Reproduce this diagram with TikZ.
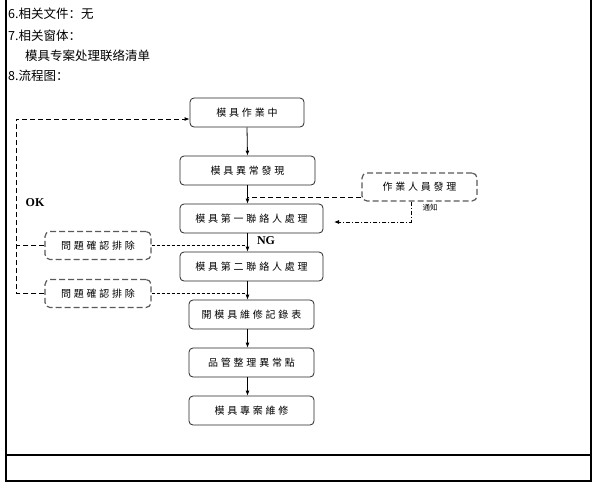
\documentclass[tikz,border=0pt]{standalone}
\usepackage{fontspec}
\setmainfont{Liberation Serif}
\newfontfamily\cjk{Noto Sans CJK SC}
\newfontfamily\cjkbox[LetterSpace=28]{Noto Sans CJK TC}
\usetikzlibrary{arrows.meta}
\begin{document}
\begin{tikzpicture}[x=1pt,y=-1pt,
  hdr/.style={anchor=west,inner sep=0pt,font=\cjk\fontsize{12.5}{14}\selectfont},
  box/.style={draw=black!85,line width=0.8pt,rounded corners=4pt,minimum height=29pt,inner sep=0pt,font=\cjkbox\fontsize{10}{12}\selectfont},
  dbox/.style={draw=black!65,line width=1.2pt,dash pattern=on 6pt off 3pt,rounded corners=5pt,minimum height=28pt,inner sep=0pt,font=\cjkbox\fontsize{10}{12}\selectfont},
  arr/.style={-{Latex[length=5pt,width=4pt]},line width=0.8pt},
  dline/.style={line width=0.9pt,dash pattern=on 5pt off 3pt},
  fline/.style={line width=0.8pt,dash pattern=on 3pt off 2pt},
  lbl/.style={font=\bfseries\fontsize{12}{14}\selectfont,inner sep=0pt}]
\useasboundingbox (0,0) rectangle (595,485);
% frame
\draw[line width=1.2pt] (6,0) -- (6,481) -- (591,481) -- (591,0);
\draw[line width=1.2pt] (6,455) -- (591,455);
% header text
\node[hdr] (h6) at (8,14) {6.相关文件：无};
\node[hdr] (h7) at (8,36) {7.相关窗体：};
\node[hdr] (h7a) at (25,56) {模具专案处理联络清单};
\node[hdr] (h8) at (8,76) {8.流程图：};
% main boxes
\node[box,minimum width=114pt] (b1) at (247,112.5) {模具作業中};
\node[box,minimum width=135pt] (b2) at (247.5,170.5) {模具異常發現};
\node[box,minimum width=143pt] (b3) at (251.5,218.5) {模具第一聯絡人處理};
\node[box,minimum width=143pt] (b4) at (251.5,266.5) {模具第二聯絡人處理};
\node[box,minimum width=125pt] (b5) at (251.5,314.5) {開模具維修記錄表};
\node[box,minimum width=125pt] (b6) at (251.5,362.5) {品管整理異常點};
\node[box,minimum width=125pt] (b7) at (251.5,410.5) {模具專案維修};
% dashed boxes
\node[dbox,minimum width=115pt] (w) at (419.5,187) {作業人員發理};
\node[dbox,minimum width=106pt] (q1) at (98,245.5) {問題確認排除};
\node[dbox,minimum width=106pt] (q2) at (98,293.5) {問題確認排除};
% labels
\node[lbl] (ok) at (35,203) {OK};
\node[lbl] (ng) at (266,241) {NG};
\node[font=\cjk\fontsize{7.5}{9}\selectfont,inner sep=0pt] (tz) at (430,208) {通知};
% coordinates
\coordinate (a1) at (247,197);
\coordinate (a2) at (247,245.5);
\coordinate (a3) at (247,293.5);
\coordinate (lx) at (16.5,119);
\coordinate (dn) at (411,222);
\coordinate (tip) at (334,222);
% main arrows
\draw[arr] (b1.south) -- (b2.north);
\draw[arr] (b2.south) -- (b2.south |- b3.north);
\draw[arr] (b2.south |- b3.south) -- (b2.south |- b4.north);
\draw[arr] (b2.south |- b4.south) -- (b2.south |- b5.north);
\draw[arr] (b2.south |- b5.south) -- (b2.south |- b6.north);
\draw[arr] (b2.south |- b6.south) -- (b2.south |- b7.north);
% dashed from worker box
\draw[dline] (w.west |- a1) -- (a1);
\draw[line width=0.8pt,dash pattern=on 4pt off 2pt on 1pt off 2pt,-{Latex[length=5pt,width=4pt]}] (w.south -| dn) -- (dn) -- (tip);
% fine dashed from q boxes
\draw[fline] (q1.east) -- (a2);
\draw[fline] (q2.east) -- (a3);
% left loop
\draw[dline] (q1.west) -- (lx |- q1.west);
\draw[dline,-{Latex[length=5pt,width=4pt]}] (q2.west) -- (lx |- q2.west) -- (lx) -- (b1.west |- lx);
\end{tikzpicture}
\end{document}
